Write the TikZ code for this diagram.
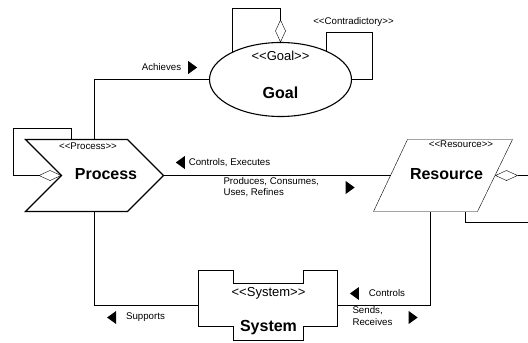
\documentclass[tikz,border=0pt]{standalone}
\usepackage{fontspec}
\setmainfont{Liberation Sans}
\usetikzlibrary{shapes.geometric, shapes.symbols, arrows.meta, positioning}
\newcommand{\stereotype}[1]{<{}<#1>{}>} % keep << >> from becoming guillemets
\tikzset{
line width=1.1pt, % all lines are a bit heavier than the default
every node/.style={inner sep=0pt, outer sep=0pt, font=\fontsize{9.7}{11.5}\selectfont}, % small labels
element/.style={draw, line width=1.1pt}, % the outline of a model element
stereo/.style={font=\fontsize{9.7}{11.5}\selectfont}, % <<...>> on small elements
bigstereo/.style={font=\fontsize{13}{15}\selectfont}, % <<...>> on Goal and System
title/.style={font=\fontsize{16}{18}\selectfont\bfseries}, % element names
agg/.style={arrows={Diamond[open, length=23pt, width=10.5pt]-}}, % aggregation end
rtri/.style={isosceles triangle, isosceles triangle stretches, fill=black, minimum width=13pt, minimum height=9pt}, % reading direction to the right
ltri/.style={rtri, shape border rotate=180}, % reading direction to the left
}

\begin{document}
\begin{tikzpicture}[x=1pt, y=-1pt]
    \useasboundingbox (-0.5,-0.5) rectangle (527.5,342.5);
    % elements
    \node[element, ellipse, minimum width=142pt, minimum height=74pt] (goal) at (280,79) {};
    \node[element, signal, signal from=west, signal to=east, minimum width=138pt, minimum height=72pt] (process) at (94,175) {};
    \node[minimum width=139pt, minimum height=72pt] (resource) at (442.5,175) {};
    \draw ([xshift=34pt]resource.north west) -- (resource.north east) -- ([xshift=-35pt]resource.south east)
        -- (resource.south west) -- cycle;
    \node[minimum width=139pt, minimum height=70pt] (system) at (267.5,305) {};
    \draw (system.north west) -- ++(35,0) -- ++(0,13) -- ++(70,0) -- ++(0,-13) -- (system.north east)
        -- ++(0,56) -- ++(-34,0) -- ++(0,14) -- ++(-70,0) -- ++(0,-14) -- ++(-35,0) -- cycle;
    % element texts
    \node[bigstereo] (goalst) at (280,55) {\stereotype{Goal}};
    \node[title] (goalname) at (280,92) {Goal};
    \node[stereo] (processst) at (87.5,146) {\stereotype{Process}};
    \node[title] (processname) at (105.5,174) {Process};
    \node[stereo] (resourcest) at (460.5,144) {\stereotype{Resource}};
    \node[title] (resourcename) at (446,174) {Resource};
    \node[bigstereo] (systemst) at (268,293) {\stereotype{System}};
    \node[title] (systemname) at (268,327) {System};
    % associations
    \draw (process.north) |- (goal.west);
    \draw (process.east) -- ([xshift=17pt]resource.west);
    \draw (process.south) |- (system.west);
    \draw (system.east) -| ([xshift=-12.5pt]resource.south);
    \draw (goal.32) |- (372,32) |- (goal.east);
    % aggregations
    \draw[agg] (goal.north) -- ++(0,-34) -| (goal.151);
    \draw[agg] (process.west) -| (13,128) -| ([xshift=-23pt]process.north);
    \draw[agg] ([xshift=-17.5pt]resource.east) -- (545,175) |- (545,222) -| ([xshift=22.5pt]resource.south);
    % labels
    \node (contra) at (353,21) {\stereotype{Contradictory}};
    \node (achieves) at (161,67) {Achieves};
    \node[rtri, right=7pt of achieves] (achievesdir) {};
    \node (controls) at (229,162) {Controls, Executes};
    \node[ltri, left=4pt of controls] (controlsdir) {};
    \node[align=left, anchor=west] (produces) at (223,186.5) {Produces, Consumes,\\Uses, Refines};
    \node[rtri] (producesdir) at (348.5,187) {};
    \node (supports) at (145,317) {Supports};
    \node[ltri, left=10pt of supports] (supportsdir) {};
    \node (syscontrols) at (386.5,293) {Controls};
    \node[ltri, left=10pt of syscontrols] (syscontrolsdir) {};
    \node[align=left, anchor=west] (sends) at (352,315.5) {Sends,\\Receives};
    \node[rtri] (sendsdir) at (411.5,317) {};
\end{tikzpicture}
\end{document}
